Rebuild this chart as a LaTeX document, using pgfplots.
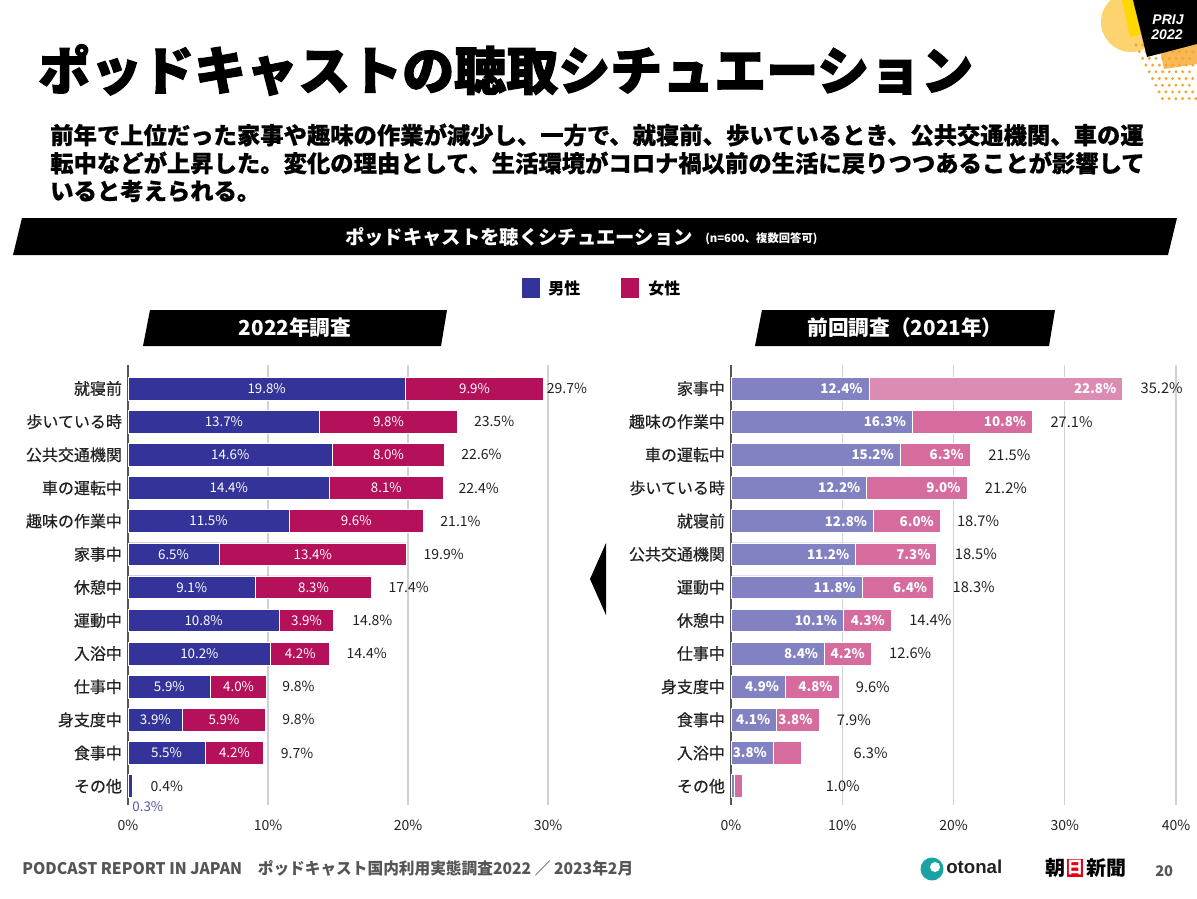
\documentclass[border=0pt]{standalone}
\usepackage{pgfplots}
\pgfplotsset{compat=1.18}
\usepackage{pgfplotstable}
\usepackage{fontspec}
\setmainfont{Noto Sans CJK JP}
\newfontfamily\heavy[BoldFeatures={FakeBold=2.2}]{Noto Sans CJK JP}
\newfontfamily\semi[BoldFeatures={FakeBold=0.6}]{Noto Sans CJK JP}
\newfontfamily\med[FakeBold=0.5]{Noto Sans CJK JP}
\newfontfamily\lib{Liberation Sans}

\definecolor{mblue}{HTML}{333399}
\definecolor{fred}{HTML}{B5105A}
\definecolor{mlav}{HTML}{8282C2}
\definecolor{fpink}{HTML}{D56C9D}
\definecolor{fpinkl}{HTML}{DC8CB2}
\definecolor{gridc}{HTML}{D2D2D2}
\definecolor{axisc}{HTML}{555555}
\definecolor{txt}{HTML}{222222}
\definecolor{footc}{HTML}{555555}
\definecolor{logoy}{HTML}{FCD36E}
\definecolor{logoyy}{HTML}{FFD800}
\definecolor{logoo}{HTML}{F6A623}
\definecolor{logol}{HTML}{F9B858}
\definecolor{otteal}{HTML}{1AA3A3}
\definecolor{asahi}{HTML}{E60012}
\definecolor{small}{HTML}{5656B0}

% idx, male, female, total, x-position of total label
\pgfplotstableread{
idx m f tot tx
0 19.8 9.9 29.7 29.9
1 13.7 9.8 23.5 24.7
2 14.6 8.0 22.6 23.8
3 14.4 8.1 22.4 23.6
4 11.5 9.6 21.1 22.3
5 6.5 13.4 19.9 21.1
6 9.1 8.3 17.4 18.6
7 10.8 3.9 14.8 16.0
8 10.2 4.2 14.4 15.6
9 5.9 4.0 9.8 11.0
10 3.9 5.9 9.8 11.0
11 5.5 4.2 9.7 10.9
12 0.3 0.1 0.4 1.6
}\leftdata

\pgfplotstableread{
idx m f tot tx
0 12.4 22.8 35.2 36.8
1 16.3 10.8 27.1 28.7
2 15.2 6.3 21.5 23.1
3 12.2 9.0 21.2 22.8
4 12.8 6.0 18.7 20.3
5 11.2 7.3 18.5 20.1
6 11.8 6.4 18.3 19.9
7 10.1 4.3 14.4 16.0
8 8.4 4.2 12.6 14.2
9 4.9 4.8 9.6 11.2
10 4.1 3.8 7.9 9.5
11 3.8 2.5 6.3 11.0
12 0.3 0.7 1.0 8.5
}\rightdata

\pgfplotsset{
  chart/.style={
    scale only axis, anchor=north west, clip=false,
    height=330pt, y dir=reverse, ymin=-0.71, ymax=12.57, xmin=0,
    axis line style={draw=none}, major tick length=0pt,
    xmajorgrids, grid style={draw=gridc, line width=0.8pt},
    extra x ticks={0}, extra x tick labels={0\%},
    extra x tick style={grid style={draw=axisc, line width=1.1pt}},
    ytick={0,...,12},
    yticklabel style={font=\med\fontsize{12}{14}\selectfont, text=txt, xshift=-1pt},
    xticklabel style={font=\fontsize{10.5}{12}\selectfont, text=txt, yshift=-7.5pt},
  },
  barst/.style={xbar, bar width=17pt, bar shift=0pt, draw=white, line width=0.5pt},
  lab/.style={draw=none, mark=none, point meta=explicit,
    nodes near coords={\pgfmathprintnumber[fixed,fixed zerofill,precision=1,assume math mode=true]{\pgfplotspointmeta}\%}},
}

\begin{document}
\begin{tikzpicture}
\useasboundingbox (0,0) rectangle (897.75pt,-674.25pt);
\fill[white] (0,0) rectangle (897.75pt,-674.25pt);

\begin{scope}[x=0.75pt,y=-0.75pt]
% logo
\fill[logoy] (1131,22) circle (30);
\fill[logol] (1160,50) -- (1197,44) -- (1197,64) -- (1164,69) -- cycle;
\foreach \j in {0,...,8}{
  \pgfmathsetmacro{\xs}{1136+\j*3.3}
  \foreach \i in {0,...,9}{
    \pgfmathsetmacro{\xx}{\xs+\i*6.7}
    \ifdim\xx pt<1196pt
      \fill[logoo] (\xx,45+\j*6.7) circle (1.6);
    \fi}}
\fill[logoyy] (1122,0) -- (1135,0) -- (1141,34) -- (1130,37) -- cycle;
\fill[black] (1133,0) -- (1190,-2) -- (1197,0) -- (1197,44) -- (1147,57) -- cycle;
\node[white, font=\lib\bfseries\itshape\fontsize{10.5}{11}\selectfont, inner sep=0] at (1168,20) {PRIJ};
\node[white, font=\lib\bfseries\itshape\fontsize{10.5}{11}\selectfont, inner sep=0] at (1167,34.5) {2022};

% title and text
\node[anchor=west, inner sep=0, font=\heavy\bfseries\fontsize{39}{42}\selectfont] at (38,70) {ポッドキャストの聴取シチュエーション};
\node[anchor=west, inner sep=0, font=\semi\bfseries\fontsize{17.5}{20}\selectfont] at (50,135) {前年で上位だった家事や趣味の作業が減少し、一方で、就寝前、歩いているとき、公共交通機関、車の運};
\node[anchor=west, inner sep=0, font=\semi\bfseries\fontsize{17.5}{20}\selectfont] at (50,163) {転中などが上昇した。変化の理由として、生活環境がコロナ禍以前の生活に戻りつつあることが影響して};
\node[anchor=west, inner sep=0, font=\semi\bfseries\fontsize{17.5}{20}\selectfont] at (50,191) {いると考えられる。};

% banner
\fill[black] (22,218) -- (1177,218) -- (1168,255) -- (13,255) -- cycle;
\node[anchor=west, inner sep=0, white, font=\fontsize{14.5}{16}\selectfont\bfseries] at (345,237) {ポッドキャストを聴くシチュエーション};
\node[anchor=west, inner sep=0, white, font=\fontsize{8.5}{10}\selectfont\bfseries] at (705,239) {(n=600、複数回答可)};

% legend
\fill[mblue] (522,278) rectangle (540,298);
\node[anchor=west, inner sep=0, font=\fontsize{12}{14}\selectfont\bfseries] at (548,288) {男性};
\fill[fred] (621,278) rectangle (639,298);
\node[anchor=west, inner sep=0, font=\fontsize{12}{14}\selectfont\bfseries] at (648,288) {女性};

% sub banners
\fill[black] (150,310) -- (447,310) -- (441,346) -- (143,346) -- cycle;
\node[white, inner sep=0, font=\fontsize{15.5}{17}\selectfont\bfseries] at (295,328) {2022年調査};
\fill[black] (762,310) -- (1055,310) -- (1049,346) -- (755,346) -- cycle;
\node[white, inner sep=0, font=\fontsize{15.5}{17}\selectfont\bfseries] at (905,328) {前回調査（2021年）};

% arrow
\fill[black] (590,579) -- (606,543) -- (606,615) -- cycle;

% footer
\node[anchor=west, inner sep=0, text=footc] at (22,868) {\scalebox{0.98}[1]{\fontsize{12}{13}\selectfont\bfseries PODCAST REPORT IN JAPAN\quad ポッドキャスト国内利用実態調査2022 ／ 2023年2月}};
\fill[otteal] (932,869) circle (11.5);
\fill[white] (935,867) circle (5);
\node[anchor=west, inner sep=0, text=txt, font=\lib\bfseries\fontsize{14}{16}\selectfont] at (946,867) {otonal};
\node[anchor=west, inner sep=0, font=\fontsize{15}{16}\selectfont\bfseries] at (1045,868) {朝};
\fill[asahi] (1067,859) rectangle (1083,877);
\node[inner sep=0, white, font=\fontsize{12.5}{14}\selectfont\bfseries] at (1075,868) {日};
\node[anchor=west, inner sep=0, font=\fontsize{15}{16}\selectfont\bfseries] at (1086,868) {新聞};
\node[anchor=west, inner sep=0, text=footc, font=\fontsize{11}{12}\selectfont\bfseries] at (1155,871) {20};
\end{scope}

% ---------------- left chart (2022)
\begin{axis}[chart, at={(96pt,-273.75pt)}, width=315pt, xmax=30,
  xtick={10,20,30}, xticklabels={10\%,20\%,30\%},
  yticklabels={就寝前,歩いている時,公共交通機関,車の運転中,趣味の作業中,家事中,休憩中,運動中,入浴中,仕事中,身支度中,食事中,その他}]
\addplot[barst, fill=fred] table[x expr=\thisrow{m}+\thisrow{f}, y=idx] {\leftdata};
\addplot[barst, fill=mblue] table[x=m, y=idx] {\leftdata};
\addplot[lab, every node near coord/.append style={anchor=center, text=white, font=\fontsize{10}{12}\selectfont},
  skip coords between index={12}{13}] table[x expr=\thisrow{m}/2, y=idx, meta=m] {\leftdata};
\addplot[lab, every node near coord/.append style={anchor=center, text=white, font=\fontsize{10}{12}\selectfont},
  skip coords between index={12}{13}] table[x expr=\thisrow{m}+\thisrow{f}/2, y=idx, meta=f] {\leftdata};
\addplot[lab, every node near coord/.append style={anchor=west, inner sep=0pt, text=txt, font=\fontsize{10.5}{12}\selectfont}]
  table[x=tx, y=idx, meta=tot] {\leftdata};
\addplot[lab, every node near coord/.append style={anchor=north west, inner sep=0pt, text=small, font=\fontsize{10}{12}\selectfont}]
  table[x=m, y expr=\thisrow{idx}+0.45, meta=m, skip coords between index={0}{12}] {\leftdata};
\end{axis}

% ---------------- right chart (2021)
\begin{axis}[chart, at={(548.25pt,-273.75pt)}, width=333.75pt, xmax=40,
  xtick={10,20,30,40}, xticklabels={10\%,20\%,30\%,40\%},
  yticklabels={家事中,趣味の作業中,車の運転中,歩いている時,就寝前,公共交通機関,運動中,休憩中,仕事中,身支度中,食事中,入浴中,その他}]
\addplot[barst, fill=fpink] table[x expr=\thisrow{m}+\thisrow{f}, y=idx] {\rightdata};
\addplot[barst, fill=fpinkl, skip coords between index={1}{13}] table[x expr=\thisrow{m}+\thisrow{f}, y=idx] {\rightdata};
\addplot[barst, fill=mlav] table[x=m, y=idx] {\rightdata};
\addplot[lab, every node near coord/.append style={anchor=east, inner sep=0pt, text=white, font=\fontsize{10}{12}\selectfont\bfseries},
  skip coords between index={12}{13}] table[x expr=\thisrow{m}-0.55, y=idx, meta=m] {\rightdata};
\addplot[lab, every node near coord/.append style={anchor=east, inner sep=0pt, text=white, font=\fontsize{10}{12}\selectfont\bfseries},
  skip coords between index={11}{13}] table[x expr=\thisrow{m}+\thisrow{f}-0.55, y=idx, meta=f] {\rightdata};
\addplot[lab, every node near coord/.append style={anchor=west, inner sep=0pt, text=txt, font=\fontsize{11}{12}\selectfont}]
  table[x=tx, y=idx, meta=tot] {\rightdata};
\end{axis}
\end{tikzpicture}
\end{document}
